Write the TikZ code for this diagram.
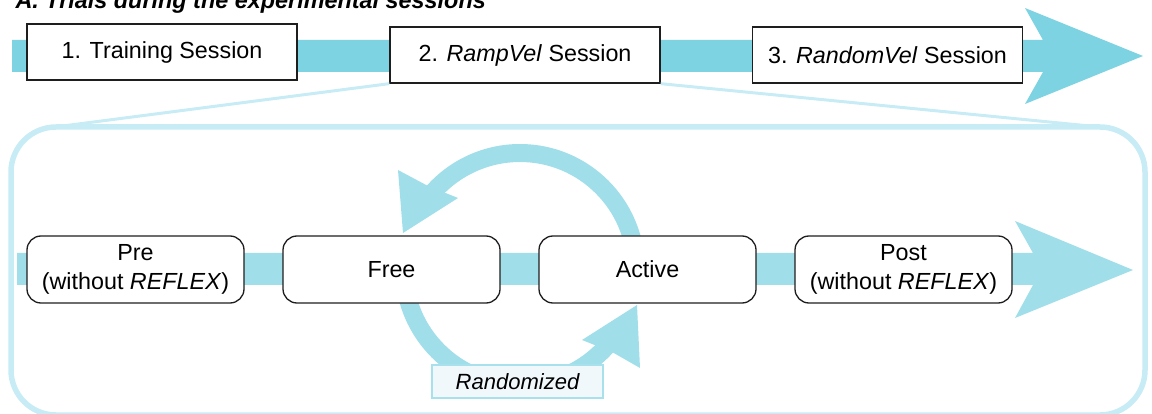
\documentclass[tikz,border=0pt]{standalone}
\usepackage{fontspec}
\setmainfont{Liberation Sans}
\definecolor{bandtop}{RGB}{125,211,225}
\definecolor{bandlow}{RGB}{160,222,234}
\definecolor{framecol}{RGB}{200,236,245}
\definecolor{tagfill}{RGB}{240,248,252}
\definecolor{tagedge}{RGB}{168,224,236}
\definecolor{edgecol}{RGB}{30,30,30}
\begin{document}
\begin{tikzpicture}[x=1pt,y=-1pt,
  every node/.style={font=\fontsize{23.3}{28.5}\selectfont},
  sessbox/.style={draw=edgecol, line width=1.3pt, fill=white,
    minimum width=270pt, minimum height=56pt, inner sep=0pt},
  trialbox/.style={draw=edgecol, line width=1.3pt, fill=white, rounded corners=14pt,
    minimum width=217pt, minimum height=67pt, align=center, inner sep=0pt},
  tagbox/.style={draw=tagedge, line width=2pt, fill=tagfill,
    minimum width=171pt, minimum height=33pt, inner sep=0pt,
    font=\fontsize{22}{26}\selectfont\itshape},
  loop/.style={draw=bandlow, line width=18pt},
  loophead/.style={fill=bandlow},
]
\useasboundingbox (0,0) rectangle (1152,414);

% heading (partly above the page edge)
\node[anchor=base west, font=\fontsize{23.4}{27}\selectfont\bfseries\itshape]
  (title) at (12,8.5) {A. Trials during the experimental sessions};

% session timeline arrow
\fill[bandtop] (12,40) -- (1043,40) -- (1025,8) -- (1143,56) -- (1025,104)
  -- (1043,72) -- (12,72) -- cycle;

\node[sessbox] (s1) at (162,52) {1. Training Session};
\node[sessbox] (s2) at (525,55) {2. \textit{RampVel} Session};
\node[sessbox] (s3) at (887.5,55) {3. \textit{RandomVel} Session};

% detail frame for the second session
\draw[framecol, line width=5.5pt, rounded corners=45pt] (11,127) rectangle (1145,415);
\coordinate (fl) at (55,127);
\coordinate (fr) at (1100,127);
\draw[framecol, line width=3pt] (s2.south west) -- (fl);
\draw[framecol, line width=3pt] (s2.south east) -- (fr);

% trial timeline arrow
\fill[bandlow] (17,253) -- (1033,253) -- (1015,221) -- (1133,270) -- (1015,318)
  -- (1033,285) -- (17,285) -- cycle;

% loop between Free and Active
\coordinate (ctr) at (520,269);
\draw[loop] ([shift={(0:116)}]ctr) arc[start angle=0, end angle=-139, radius=116];
\fill[loophead] (403,233) -- (398,170) -- (428,186) -- (458,198) -- cycle;
\draw[loop] ([shift={(180:116)}]ctr) arc[start angle=180, end angle=41, radius=116];
\fill[loophead] (637,305) -- (640,368) -- (612,352) -- (582,340) -- cycle;

\node[trialbox] (pre) at (135.5,269.5) {Pre\\(without \textit{REFLEX})};
\node[trialbox] (free) at (391.5,269.5) {Free};
\node[trialbox] (active) at (647.5,269.5) {Active};
\node[trialbox] (post) at (903.5,269.5) {Post\\(without \textit{REFLEX})};

\node[tagbox] (rand) at (517.5,381.5) {Randomized};
\end{tikzpicture}
\end{document}
